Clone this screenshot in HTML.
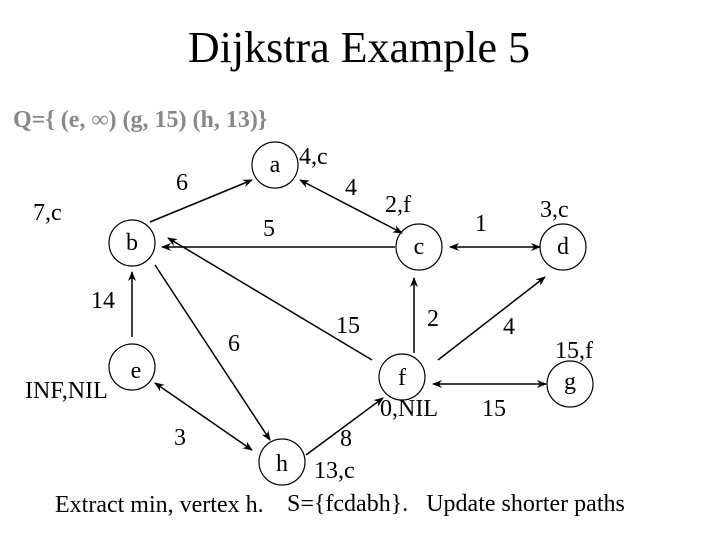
<!DOCTYPE html>
<html><head><style>
html,body{margin:0;padding:0;background:#fff;}
svg{display:block;}
text{font-family:"Liberation Serif","Times New Roman","DejaVu Serif",serif;fill:#000;}
</style></head><body>
<svg width="720" height="540" viewBox="0 0 720 540" xmlns="http://www.w3.org/2000/svg" font-family="Liberation Serif, serif">
<defs>
<marker id="ar" markerWidth="10" markerHeight="8" refX="9" refY="4" orient="auto-start-reverse" markerUnits="userSpaceOnUse">
<path d="M0,0 L10,4 L0,8 L3,4 Z" fill="#000"/>
</marker>
</defs>
<text x="359" y="62" font-size="44" text-anchor="middle">Dijkstra Example 5</text>
<text x="13" y="127" font-size="24" font-weight="bold" style="fill:#888">Q={ (e, ∞) (g, 15) (h, 13)}</text>
<g fill="none" stroke="#000" stroke-width="1.2">
<circle cx="275" cy="165" r="23"/>
<circle cx="132" cy="243" r="23"/>
<circle cx="419" cy="247" r="23"/>
<circle cx="563" cy="247" r="23"/>
<circle cx="402" cy="377" r="23"/>
<circle cx="570" cy="384" r="23"/>
<circle cx="132" cy="367" r="23"/>
<circle cx="282" cy="462" r="23"/>
</g>
<g stroke="#000" stroke-width="1.5" fill="none">
<line x1="150" y1="222" x2="252" y2="180" marker-end="url(#ar)"/>
<line x1="402" y1="233" x2="300" y2="180" marker-end="url(#ar)" marker-start="url(#ar)"/>
<line x1="395" y1="247" x2="162" y2="247" marker-end="url(#ar)"/>
<line x1="450" y1="247" x2="540" y2="247" marker-end="url(#ar)" marker-start="url(#ar)"/>
<line x1="414" y1="353" x2="414" y2="278" marker-end="url(#ar)"/>
<line x1="438" y1="360" x2="545" y2="277" marker-end="url(#ar)"/>
<line x1="433" y1="384" x2="546" y2="384" marker-end="url(#ar)" marker-start="url(#ar)"/>
<line x1="372" y1="360" x2="168" y2="238" marker-end="url(#ar)"/>
<line x1="132" y1="337" x2="132" y2="272" marker-end="url(#ar)"/>
<line x1="155" y1="265" x2="270" y2="440" marker-end="url(#ar)"/>
<line x1="155" y1="383" x2="252" y2="450" marker-end="url(#ar)" marker-start="url(#ar)"/>
<line x1="306" y1="455" x2="383" y2="398" marker-end="url(#ar)"/>
</g>
<g font-size="24" text-anchor="middle">
<text x="275" y="172">a</text>
<text x="132" y="250">b</text>
<text x="419" y="254">c</text>
<text x="563" y="254">d</text>
<text x="402" y="385">f</text>
<text x="570" y="389">g</text>
<text x="136" y="378">e</text>
<text x="282" y="471">h</text>
</g>
<g font-size="24">
<text x="299" y="164">4,c</text>
<text x="176" y="190">6</text>
<text x="345" y="195">4</text>
<text x="385" y="212">2,f</text>
<text x="475" y="231">1</text>
<text x="540" y="217">3,c</text>
<text x="33" y="220">7,c</text>
<text x="263" y="236">5</text>
<text x="91" y="308">14</text>
<text x="336" y="333">15</text>
<text x="427" y="326">2</text>
<text x="503" y="334">4</text>
<text x="228" y="351">6</text>
<text x="555" y="358">15,f</text>
<text x="25" y="398">INF,NIL</text>
<text x="380" y="416">0,NIL</text>
<text x="482" y="416">15</text>
<text x="174" y="445">3</text>
<text x="340" y="446">8</text>
<text x="314" y="478">13,c</text>
<text x="55" y="512">Extract min, vertex h.</text>
<text x="287" y="511" xml:space="preserve">S={fcdabh}.   Update shorter paths</text>
</g>
</svg>
</body></html>
